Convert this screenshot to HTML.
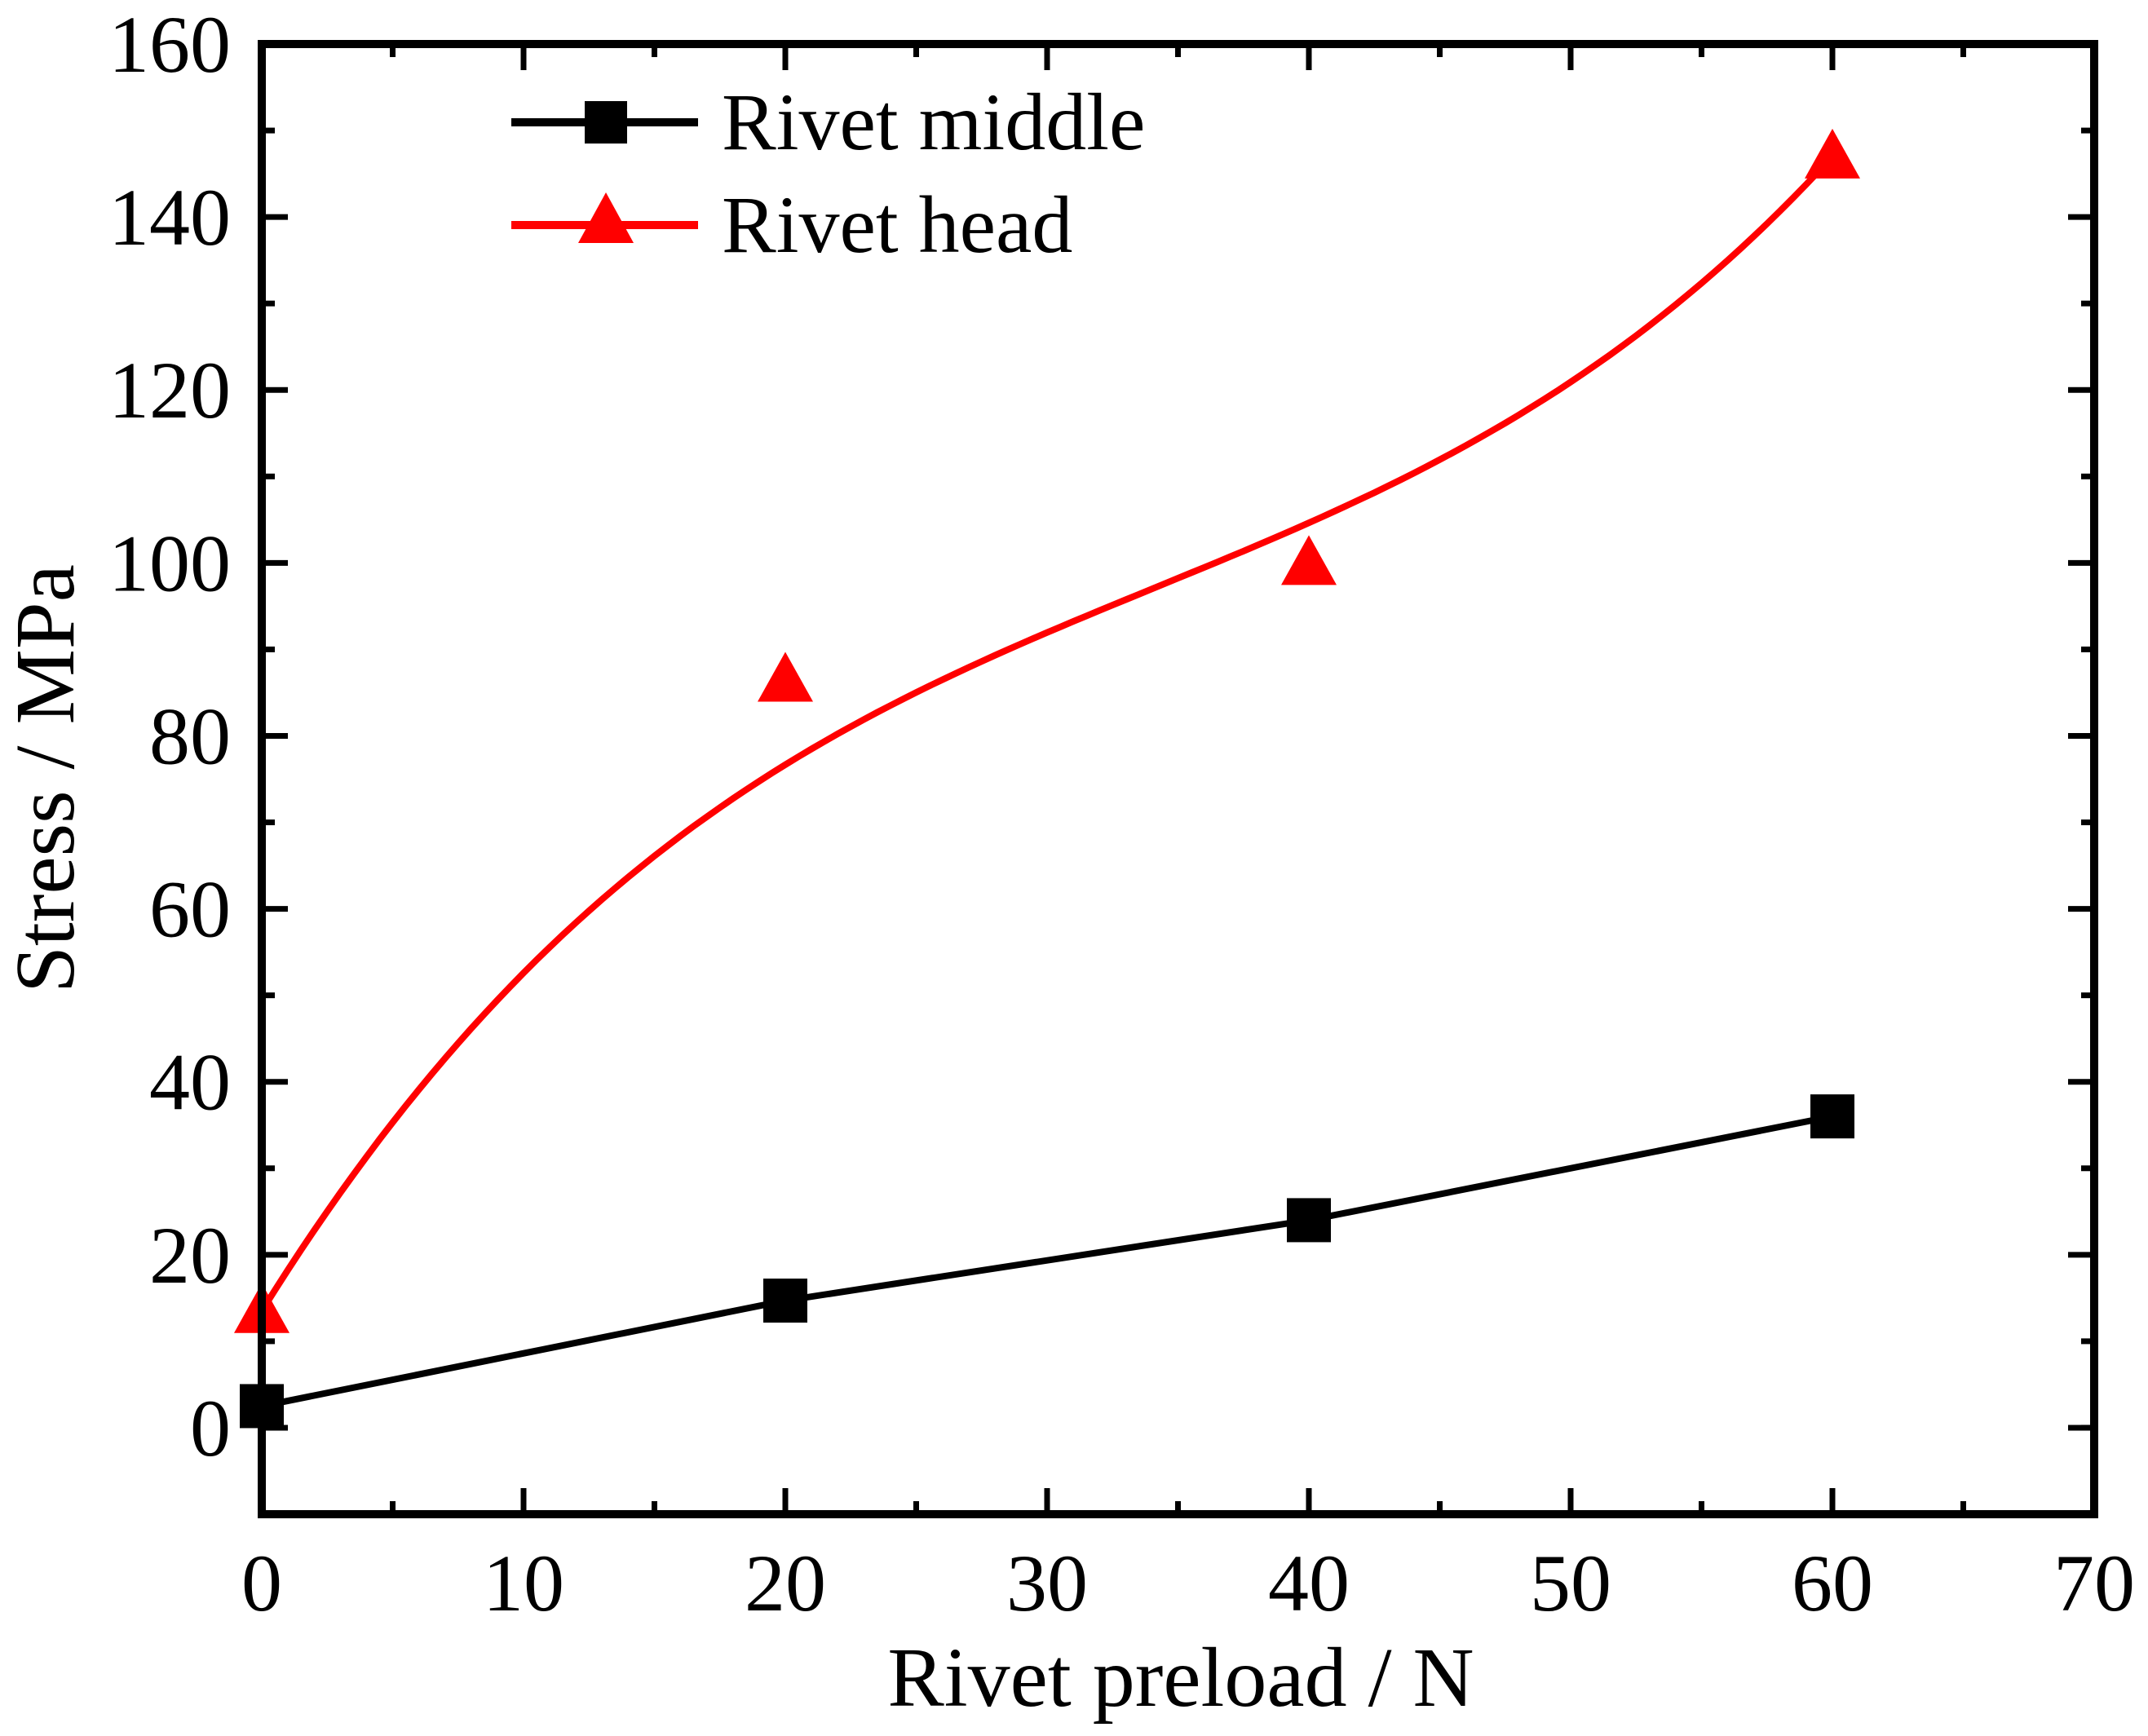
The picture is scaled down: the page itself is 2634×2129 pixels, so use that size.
<!DOCTYPE html>
<html><head><meta charset="utf-8"><style>
html,body{margin:0;padding:0;background:#fff}
svg{display:block;font-family:"Liberation Serif",serif}
</style></head><body>
<svg id="chart" width="2634" height="2129" viewBox="0 0 2634 2129" xmlns="http://www.w3.org/2000/svg">
<g id="series"></g>
<rect x="321" y="54" width="2247" height="1803" fill="none" stroke="#000" stroke-width="10"/>
<g id="ticks"></g>
<text x="1448" y="2092" font-size="104" text-anchor="middle">Rivet preload / N</text>
<text transform="translate(90,955) rotate(-90)" font-size="104" text-anchor="middle">Stress / MPa</text>
<g>
<line x1="627" y1="150" x2="856" y2="150" stroke="#000" stroke-width="10"/>
<rect x="717" y="124" width="52" height="52" fill="#000"/>
<text x="885" y="183" font-size="100">Rivet middle</text>
<line x1="627" y1="276" x2="856" y2="276" stroke="#f00" stroke-width="10"/>
<polygon points="743,236 777,298 709,298" fill="#f00"/>
<text x="885" y="309" font-size="100">Rivet head</text>
</g>
</svg>
<script>
const xValues=[0,20,40,60];
const middleValues=[2.5,14.7,24,36];
const headValues=[13.5,86.5,100,147];
const xTicks=[0,10,20,30,40,50,60,70];
const yTicks=[0,20,40,60,80,100,120,140,160];
const NS="http://www.w3.org/2000/svg";
const X0=321,X1=2568,Y0=1857,Y1=54,XMIN=0,XMAX=70,YMIN=-10,YMAX=160;
function sx(v){return X0+(v-XMIN)/(XMAX-XMIN)*(X1-X0);}
function sy(v){return Y0-(v-YMIN)/(YMAX-YMIN)*(Y0-Y1);}
function mk(tag,attrs,parent){const e=document.createElementNS(NS,tag);for(const k in attrs)e.setAttribute(k,attrs[k]);parent.appendChild(e);return e;}
const ticks=document.getElementById('ticks');
const series=document.getElementById('series');
for(let i=0;i<xTicks.length;i++){
  const v=xTicks[i],x=sx(v);
  let t=mk('line',{x1:x,y1:Y0,x2:x,y2:Y0-32,stroke:'#000','stroke-width':7},ticks);
  
  
  t=mk('line',{x1:x,y1:Y1,x2:x,y2:Y1+32,stroke:'#000','stroke-width':7},ticks);
  
  
  if(i<xTicks.length-1){const m=sx(v+5);
    t=mk('line',{x1:m,y1:Y0,x2:m,y2:Y0-16,stroke:'#000','stroke-width':7},ticks);
    
    
    t=mk('line',{x1:m,y1:Y1,x2:m,y2:Y1+16,stroke:'#000','stroke-width':7},ticks);
    
    }
  const lb=mk('text',{x:x,y:1975,'font-size':100,'text-anchor':'middle'},ticks);
  lb.textContent=v;
  
  
}
for(const v of yTicks){
  const y=sy(v);
  let t=mk('line',{x1:X0,y1:y,x2:X0+32,y2:y,stroke:'#000','stroke-width':7},ticks);
  
  
  t=mk('line',{x1:X1,y1:y,x2:X1-32,y2:y,stroke:'#000','stroke-width':7},ticks);
  
  
  const lb=mk('text',{x:283,y:y+34,'font-size':100,'text-anchor':'end'},ticks);
  lb.textContent=v;
  
  
}
for(const v of yTicks.slice(0,-1).map(v=>v+10).concat([-10+20-10])){
  const y=sy(v);
  if(v<=YMIN)continue;
  let t=mk('line',{x1:X0,y1:y,x2:X0+16,y2:y,stroke:'#000','stroke-width':7},ticks);
  
  
  t=mk('line',{x1:X1,y1:y,x2:X1-16,y2:y,stroke:'#000','stroke-width':7},ticks);
  
  
}
let d='';
xValues.forEach((v,i)=>{d+=(i?'L':'M')+sx(v)+','+sy(middleValues[i]);});
let p=mk('path',{d:d,fill:'none',stroke:'#000','stroke-width':8},series);


xValues.forEach((v,i)=>{
  const r=mk('rect',{x:sx(v)-27,y:sy(middleValues[i])-27,width:54,height:54,fill:'#000'},series);
  
  
});
// head curve: blend of interpolating cubic and Bezier (B-spline style smoothing)
function lagrange(x){let s=0;for(let i=0;i<xValues.length;i++){let l=1;for(let j=0;j<xValues.length;j++){if(j!==i)l*=(x-xValues[j])/(xValues[i]-xValues[j]);}s+=l*headValues[i];}return s;}
function bez(t){const u=1-t;return u*u*u*headValues[0]+3*u*u*t*headValues[1]+3*u*t*t*headValues[2]+t*t*t*headValues[3];}
const xa=xValues[0],xb=xValues[xValues.length-1];
d='';
for(let k=0;k<=120;k++){const t=k/120,x=xa+(xb-xa)*t;const y=0.4*lagrange(x)+0.6*bez(t);d+=(k?'L':'M')+sx(x).toFixed(1)+','+sy(y).toFixed(1);}
p=mk('path',{d:d,fill:'none',stroke:'#f00','stroke-width':8},series);


xValues.forEach((v,i)=>{
  const x=sx(v),y=sy(headValues[i]);
  const t=mk('polygon',{points:(x)+','+(y-34)+' '+(x+34)+','+(y+27)+' '+(x-34)+','+(y+27),fill:'#f00'},series);
  
  
});
</script>
</body></html>
